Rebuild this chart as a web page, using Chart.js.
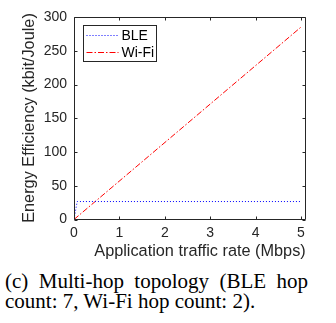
<!DOCTYPE html>
<html>
<head>
<meta charset="utf-8">
<script src="https://cdn.jsdelivr.net/npm/chart.js@4/dist/chart.umd.min.js"></script>
<style>
  html, body { margin: 0; padding: 0; background: #fff; width: 336px; height: 323px; overflow: hidden; }
  #wrap { position: absolute; left: 0; top: 0; width: 336px; height: 262px; }
  #cap { position: absolute; left: 5px; top: 271px; width: 303px; font-family: "Liberation Serif", "Times New Roman", serif; font-size: 21px; line-height: 20px; color: #000; }
  #cap .l1 { text-align: justify; text-align-last: justify; white-space: nowrap; }
  #cap .l2 { text-align: left; white-space: nowrap; }
</style>
</head>
<body>
<div id="wrap"><canvas id="c" width="336" height="262"></canvas></div>
<div id="cap"><div class="l1">(c) Multi-hop topology (BLE hop</div><div class="l2">count: 7, Wi-Fi hop count: 2).</div></div>
<script>
// ---- data ----
const bleRates = [0, 0.07, 5];
const bleEfficiency = [0, 26.6, 26.6];
const wifiRates = [0, 5];
const wifiEfficiency = [0, 285];
const xTicks = [0, 1, 2, 3, 4, 5];
const yTicks = [0, 50, 100, 150, 200, 250, 300];
const seriesNames = ["BLE", "Wi-Fi"];
const xTitle = "Application traffic rate (Mbps)";
const yTitle = "Energy Efficiency (kbit/Joule)";

const AX = '#262626';
const FONT = '"Liberation Sans", Arial, sans-serif';

const PLOT = { left: 74, top: 17, right: 305.5, bottom: 219.5 };
const W = 336, H = 262;

const framePlugin = {
  id: 'frame',
  afterDatasetsDraw(chart) {
    const ctx = chart.ctx;
    const a = chart.chartArea;
    const xs = chart.scales.x, ys = chart.scales.y;
    ctx.save();
    ctx.strokeStyle = AX;
    ctx.lineWidth = 1;
    ctx.beginPath();
    const L = Math.round(a.left) + 0.5, R = Math.round(a.right) - 0.5;
    const T = Math.round(a.top) + 0.5, B = Math.round(a.bottom) - 0.5;
    ctx.rect(L, T, R - L, B - T);
    const tl = 3;
    xTicks.forEach(v => {
      const px = Math.round(xs.getPixelForValue(v)) + 0.5;
      ctx.moveTo(px, B); ctx.lineTo(px, B - tl);
      ctx.moveTo(px, T); ctx.lineTo(px, T + tl);
    });
    yTicks.forEach(v => {
      const py = Math.round(ys.getPixelForValue(v)) + 0.5;
      ctx.moveTo(L, py); ctx.lineTo(L + tl, py);
      ctx.moveTo(R, py); ctx.lineTo(R - tl, py);
    });
    ctx.stroke();

    // axis titles
    ctx.fillStyle = AX;
    ctx.font = '16.3px ' + FONT;
    ctx.textAlign = 'center';
    ctx.textBaseline = 'alphabetic';
    ctx.fillText(xTitle, 200, 255.5);
    ctx.save();
    ctx.translate(34, 118);
    ctx.rotate(-Math.PI / 2);
    ctx.fillText(yTitle, 0, 0);
    ctx.restore();

    // legend box
    const bx = 83.5, by = 25.5, bw = 73, bh = 36;
    ctx.fillStyle = '#fff';
    ctx.fillRect(bx, by, bw, bh);
    ctx.strokeStyle = AX;
    ctx.strokeRect(bx, by, bw, bh);
    ctx.font = '14px ' + FONT;
    ctx.textBaseline = 'middle';
    ctx.textAlign = 'left';
    chart.data.datasets.forEach((ds, i) => {
      const y = Math.round(by + 9 + i * 17.5) + 0.5;
      ctx.save();
      ctx.strokeStyle = ds.borderColor;
      ctx.lineWidth = 1;
      ctx.setLineDash(ds.borderDash);
      ctx.beginPath();
      ctx.moveTo(bx + 3, y); ctx.lineTo(bx + 35, y);
      ctx.stroke();
      ctx.restore();
      ctx.fillStyle = '#000';
      ctx.fillText(ds.label, bx + 38, y + 1);
    });
    ctx.restore();
  }
};

new Chart(document.getElementById('c'), {
  type: 'scatter',
  data: {
    datasets: [
      {
        label: seriesNames[0],
        data: bleRates.map((x, i) => ({ x, y: bleEfficiency[i] })),
        showLine: true, borderColor: '#0000ff', borderWidth: 1,
        borderDash: [1, 2], pointRadius: 0, fill: false, tension: 0
      },
      {
        label: seriesNames[1],
        data: wifiRates.map((x, i) => ({ x, y: wifiEfficiency[i] })),
        showLine: true, borderColor: '#ff0000', borderWidth: 1,
        borderDash: [6, 2, 1.5, 2], pointRadius: 0, fill: false, tension: 0
      }
    ]
  },
  options: {
    responsive: false,
    animation: false,
    events: [],
    layout: { padding: { left: 0, top: PLOT.top, right: W - PLOT.right, bottom: 0 } },
    plugins: { legend: { display: false }, tooltip: { enabled: false } },
    scales: {
      x: {
        type: 'linear', min: 0, max: 5.1,
        afterBuildTicks(s) { s.ticks = xTicks.map(v => ({ value: v })); },
        afterFit(s) { s.height = H - PLOT.bottom; },
        grid: { display: false, drawTicks: false },
        border: { display: false },
        ticks: { color: AX, font: { family: FONT, size: 14 }, padding: 5, maxRotation: 0 },
        title: { display: false }
      },
      y: {
        type: 'linear', min: 0, max: 300,
        afterBuildTicks(s) { s.ticks = yTicks.map(v => ({ value: v })); },
        afterFit(s) { s.width = PLOT.left; },
        grid: { display: false, drawTicks: false },
        border: { display: false },
        ticks: { color: AX, font: { family: FONT, size: 14 }, padding: 7 },
        title: { display: false }
      }
    }
  },
  plugins: [framePlugin]
});
</script>
</body>
</html>
